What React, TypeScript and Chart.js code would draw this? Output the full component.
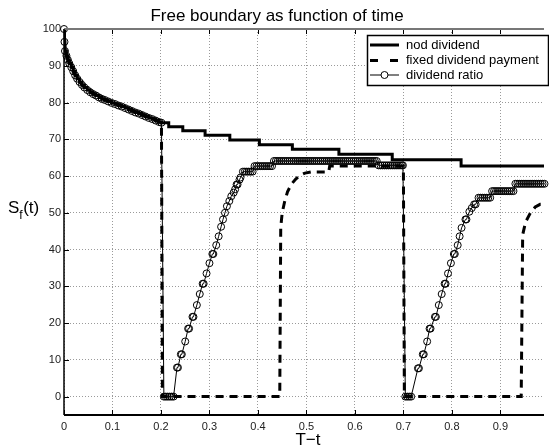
import React, { useEffect, useRef } from 'react';
import { Chart, registerables } from 'chart.js';

Chart.register(...registerables);

const FONT = '"Liberation Sans", Arial, Helvetica, sans-serif';

// ---------- axis ticks ----------
const xTicks = [0, 0.1, 0.2, 0.3, 0.4, 0.5, 0.6, 0.7, 0.8, 0.9];
const xTickLabels = ['0', '0.1', '0.2', '0.3', '0.4', '0.5', '0.6', '0.7', '0.8', '0.9'];
const yTicks = [0, 10, 20, 30, 40, 50, 60, 70, 80, 90, 100];
const yTickLabels = ['0', '10', '20', '30', '40', '50', '60', '70', '80', '90', '100'];

// ---------- shared early part of the boundary (T-t in [0, 0.2]) ----------
const earlyT = [0, 0.001, 0.002, 0.005, 0.008, 0.011, 0.015, 0.019, 0.023, 0.027, 0.032, 0.037, 0.042, 0.048, 0.054, 0.060, 0.066, 0.072, 0.078, 0.084, 0.091, 0.098, 0.105, 0.112, 0.119, 0.126, 0.133, 0.140, 0.147, 0.154, 0.161, 0.168, 0.175, 0.182, 0.189, 0.196, 0.201];
const earlyS = [100, 96.5, 94.0, 92.7, 91.6, 90.6, 89.6, 88.5, 87.4, 86.5, 85.6, 84.8, 84.1, 83.4, 82.8, 82.3, 81.9, 81.4, 81.0, 80.7, 80.3, 79.9, 79.6, 79.2, 78.9, 78.5, 78.1, 77.7, 77.3, 77.0, 76.6, 76.2, 75.8, 75.5, 75.1, 74.7, 74.5];

// ---------- nod dividend (stairs after 0.2) ----------
const nodStepT = [0.216, 0.245, 0.291, 0.342, 0.403, 0.471, 0.567, 0.677, 0.819, 0.99];
const nodStepS = [73.4, 72.3, 71.1, 69.8, 68.5, 67.3, 65.9, 64.4, 62.7, 62.7];

// ---------- fixed dividend payment ----------
const fixedLateT = [0.203, 0.445, 0.447, 0.450, 0.455, 0.461, 0.469, 0.478, 0.487, 0.497, 0.509, 0.546, 0.548, 0.700, 0.702, 0.943, 0.946, 0.952, 0.962, 0.972, 0.982, 0.99];
const fixedLateS = [0, 0, 46, 50, 53, 55.7, 57.8, 59.2, 60.2, 60.8, 61.1, 61.1, 62.7, 62.7, 0, 0, 44, 47.5, 50, 51.6, 52.3, 52.3];

// ---------- dividend ratio ----------
const ratioZero1T = [0.206, 0.210, 0.214, 0.218, 0.222, 0.226];
const ratioRise1T = [0.233, 0.235, 0.241, 0.243, 0.250, 0.256, 0.258, 0.265, 0.267, 0.274, 0.280, 0.286, 0.288, 0.294, 0.300, 0.306, 0.308, 0.314, 0.319, 0.324, 0.328, 0.332, 0.336, 0.341, 0.345, 0.350, 0.353, 0.356, 0.358, 0.362, 0.364];
const ratioRise1S = [7.9, 7.9, 11.5, 11.5, 15.0, 18.5, 18.5, 21.7, 21.7, 24.9, 27.9, 30.7, 30.7, 33.5, 36.3, 38.8, 38.8, 41.2, 43.6, 46.2, 48.2, 50.0, 51.8, 53.2, 54.5, 55.5, 56.4, 57.7, 57.7, 59.0, 59.6];
const ratioFlat1aT = [0.369, 0.373, 0.377, 0.381, 0.385, 0.389];
const ratioFlat1aS = 61.2;
const ratioFlat1bT = [0.393, 0.397, 0.401, 0.405, 0.409, 0.413, 0.417, 0.421, 0.425, 0.429];
const ratioFlat1bS = 62.7;
const ratioFlat1cT = [0.433, 0.437, 0.441, 0.445, 0.449, 0.453, 0.457, 0.461, 0.465, 0.469, 0.473, 0.477, 0.481, 0.485, 0.489, 0.493, 0.497, 0.501, 0.505, 0.509, 0.513, 0.517, 0.521, 0.525, 0.529, 0.533, 0.537, 0.541, 0.545, 0.549, 0.553, 0.557, 0.561, 0.565, 0.569, 0.573, 0.577, 0.581, 0.585, 0.589, 0.593, 0.597, 0.601, 0.605, 0.609, 0.613, 0.617, 0.621, 0.625, 0.629, 0.633, 0.637, 0.641, 0.645];
const ratioFlat1cS = 64.1;
const ratioFlat1dT = [0.649, 0.653, 0.657, 0.661, 0.665, 0.669, 0.673, 0.677, 0.681, 0.685, 0.689, 0.693, 0.697, 0.699];
const ratioFlat1dS = 62.9;
const ratioZero2T = [0.704, 0.708, 0.712, 0.716];
const ratioRise2T = [0.730, 0.732, 0.740, 0.742, 0.749, 0.754, 0.756, 0.765, 0.767, 0.773, 0.779, 0.785, 0.787, 0.792, 0.798, 0.804, 0.806, 0.812, 0.816, 0.820, 0.828, 0.830, 0.836, 0.841, 0.846, 0.849];
const ratioRise2S = [7.7, 7.7, 11.5, 11.5, 15.0, 18.5, 18.5, 21.7, 21.7, 24.9, 27.9, 30.7, 30.7, 33.5, 36.3, 38.8, 38.8, 41.2, 43.6, 45.9, 48.2, 48.2, 50.3, 51.3, 52.3, 52.3];
const ratioFlat2aT = [0.855, 0.859, 0.863, 0.867, 0.871, 0.875, 0.879];
const ratioFlat2aS = 54.1;
const ratioFlat2bT = [0.883, 0.887, 0.891, 0.895, 0.899, 0.903, 0.907, 0.911, 0.915, 0.919, 0.923, 0.927];
const ratioFlat2bS = 55.9;
const ratioFlat2cT = [0.931, 0.935, 0.939, 0.943, 0.947, 0.951, 0.955, 0.959, 0.963, 0.967, 0.971, 0.975, 0.979, 0.983, 0.987, 0.991];
const ratioFlat2cS = 57.9;

const seriesLabels = ['nod dividend', 'fixed dividend payment', 'dividend ratio'];

type P = { x: number; y: number };
const toPts = (t: number[], s: number[]): P[] => t.map((x, i) => ({ x, y: s[i] }));
const flat = (t: number[], s: number): P[] => t.map((x) => ({ x, y: s }));

const nodData: P[] = [...toPts(earlyT, earlyS), ...toPts(nodStepT, nodStepS)];
const fixedData: P[] = [...toPts(earlyT, earlyS), ...toPts(fixedLateT, fixedLateS)];
const ratioData: P[] = [
  ...toPts(earlyT, earlyS),
  ...flat(ratioZero1T, 0),
  ...toPts(ratioRise1T, ratioRise1S),
  ...flat(ratioFlat1aT, ratioFlat1aS),
  ...flat(ratioFlat1bT, ratioFlat1bS),
  ...flat(ratioFlat1cT, ratioFlat1cS),
  ...flat(ratioFlat1dT, ratioFlat1dS),
  ...flat(ratioZero2T, 0),
  ...toPts(ratioRise2T, ratioRise2S),
  ...flat(ratioFlat2aT, ratioFlat2aS),
  ...flat(ratioFlat2bT, ratioFlat2bS),
  ...flat(ratioFlat2cT, ratioFlat2cS),
];

const decor = {
  id: 'decor',
  afterDatasetsDraw(chart: any) {
    const { ctx, chartArea: a, scales } = chart;
    const xs = scales.x;
    const ys = scales.y;
    ctx.save();
    ctx.setLineDash([]);
    // inward tick marks
    ctx.strokeStyle = '#000';
    ctx.lineWidth = 1;
    ctx.beginPath();
    xTicks.forEach((v) => {
      const px = Math.round(xs.getPixelForValue(v)) + 0.5;
      ctx.moveTo(px, a.top);
      ctx.lineTo(px, a.top + 5);
      ctx.moveTo(px, a.bottom);
      ctx.lineTo(px, a.bottom - 5);
    });
    yTicks.forEach((v) => {
      const py = Math.round(ys.getPixelForValue(v)) + 0.5;
      ctx.moveTo(a.left, py);
      ctx.lineTo(a.left + 5, py);
    });
    ctx.stroke();
    // frame
    ctx.lineWidth = 2;
    ctx.strokeStyle = '#777';
    ctx.beginPath();
    ctx.moveTo(a.left, a.top);
    ctx.lineTo(a.right, a.top);
    ctx.stroke();
    ctx.strokeStyle = '#000';
    ctx.lineWidth = 1.5;
    ctx.beginPath();
    ctx.moveTo(a.left, a.top);
    ctx.lineTo(a.left, a.bottom);
    ctx.stroke();
    ctx.lineWidth = 2;
    ctx.beginPath();
    ctx.moveTo(a.left, a.bottom);
    ctx.lineTo(a.right, a.bottom);
    ctx.stroke();
    ctx.restore();
  },
  afterDraw(chart: any) {
    const { ctx } = chart;
    ctx.save();
    ctx.fillStyle = '#000';
    // title
    ctx.font = `17px ${FONT}`;
    ctx.textAlign = 'center';
    ctx.textBaseline = 'alphabetic';
    ctx.fillText('Free boundary as function of time', 277, 21);
    // x label
    ctx.fillText('T\u2212t', 308, 445);
    // y label S_f(t)
    ctx.textAlign = 'left';
    ctx.font = `17px ${FONT}`;
    ctx.fillText('S', 8, 213);
    const sw = ctx.measureText('S').width;
    ctx.font = `12px ${FONT}`;
    ctx.fillText('f', 8 + sw, 219);
    const fw = ctx.measureText('f').width;
    ctx.font = `17px ${FONT}`;
    ctx.fillText('(t)', 8 + sw + fw + 0.5, 213);

    // legend
    const bx = 367.5, by = 35.5, bw = 181, bh = 50;
    ctx.fillStyle = '#fff';
    ctx.fillRect(bx, by, bw, bh);
    ctx.strokeStyle = '#000';
    ctx.lineWidth = 1.5;
    ctx.strokeRect(bx, by, bw, bh);
    const rows = [45, 60.5, 75];
    const lx0 = 370, lx1 = 399;
    // row 1 solid
    ctx.lineWidth = 3;
    ctx.beginPath();
    ctx.moveTo(lx0, rows[0]);
    ctx.lineTo(lx1, rows[0]);
    ctx.stroke();
    // row 2 dashed
    ctx.setLineDash([8, 12]);
    ctx.beginPath();
    ctx.moveTo(lx0, rows[1]);
    ctx.lineTo(lx1, rows[1]);
    ctx.stroke();
    ctx.setLineDash([]);
    // row 3 line + circle
    ctx.lineWidth = 1;
    ctx.beginPath();
    ctx.moveTo(lx0, rows[2]);
    ctx.lineTo(lx1, rows[2]);
    ctx.stroke();
    ctx.fillStyle = '#fff';
    ctx.beginPath();
    ctx.arc((lx0 + lx1) / 2, rows[2], 3.5, 0, Math.PI * 2);
    ctx.fill();
    ctx.stroke();
    ctx.fillStyle = '#000';
    ctx.font = `13px ${FONT}`;
    ctx.textAlign = 'left';
    ctx.textBaseline = 'middle';
    seriesLabels.forEach((t, i) => ctx.fillText(t, 406, rows[i]));
    ctx.restore();
  },
};

export default function App() {
  const ref = useRef<HTMLCanvasElement>(null);
  useEffect(() => {
    const chart = new Chart(ref.current as HTMLCanvasElement, {
      type: 'line',
      data: {
        datasets: [
          {
            label: seriesLabels[2],
            data: ratioData,
            borderColor: '#000',
            borderWidth: 1,
            pointRadius: 3.5,
            pointStyle: 'circle',
            pointBorderColor: '#000',
            pointBackgroundColor: 'rgba(0,0,0,0)',
            pointBorderWidth: 1,
            tension: 0,
            order: 0,
            clip: false,
          } as any,
          {
            label: seriesLabels[1],
            data: fixedData,
            borderColor: '#000',
            borderWidth: 3,
            borderDash: [8, 6],
            borderCapStyle: 'butt',
            pointRadius: 0,
            tension: 0,
            order: 1,
          } as any,
          {
            label: seriesLabels[0],
            data: nodData,
            borderColor: '#000',
            borderWidth: 3,
            stepped: true,
            pointRadius: 0,
            tension: 0,
            order: 2,
          } as any,
        ],
      },
      options: {
        animation: false,
        responsive: false,
        devicePixelRatio: 1,
        events: [],
        layout: { padding: { top: 29, left: 0, right: 0, bottom: 0 } },
        plugins: {
          legend: { display: false },
          title: { display: false },
          tooltip: { enabled: false },
        },
        scales: {
          x: {
            type: 'linear',
            min: 0,
            max: 0.99,
            afterBuildTicks: (s: any) => {
              s.ticks = xTicks.map((v) => ({ value: v }));
            },
            afterFit: (s: any) => {
              s.height = 32;
            },
            ticks: {
              callback: (_v: any, i: number) => xTickLabels[i],
              font: { family: FONT, size: 11 },
              color: '#222',
              padding: 5,
              autoSkip: false,
              maxRotation: 0,
            },
            grid: { color: '#9a9a9a', lineWidth: 1, drawTicks: false },
            border: { display: false, dash: [1, 2] },
          },
          y: {
            type: 'linear',
            min: -5,
            max: 100,
            afterBuildTicks: (s: any) => {
              s.ticks = yTicks.map((v) => ({ value: v }));
            },
            afterFit: (s: any) => {
              s.width = 64;
            },
            ticks: {
              callback: (_v: any, i: number) => yTickLabels[i],
              font: { family: FONT, size: 11 },
              color: '#222',
              padding: 3,
              autoSkip: false,
            },
            grid: { color: '#9a9a9a', lineWidth: 1, drawTicks: false },
            border: { display: false, dash: [1, 2] },
          },
        },
      } as any,
      plugins: [decor],
    });
    return () => chart.destroy();
  }, []);
  return (
    <div style={{ position: 'fixed', left: 0, top: 0, width: 549, height: 447, background: '#fff' }}>
      <canvas ref={ref} width={549} height={447} style={{ display: 'block', width: 549, height: 447 }} />
    </div>
  );
}
